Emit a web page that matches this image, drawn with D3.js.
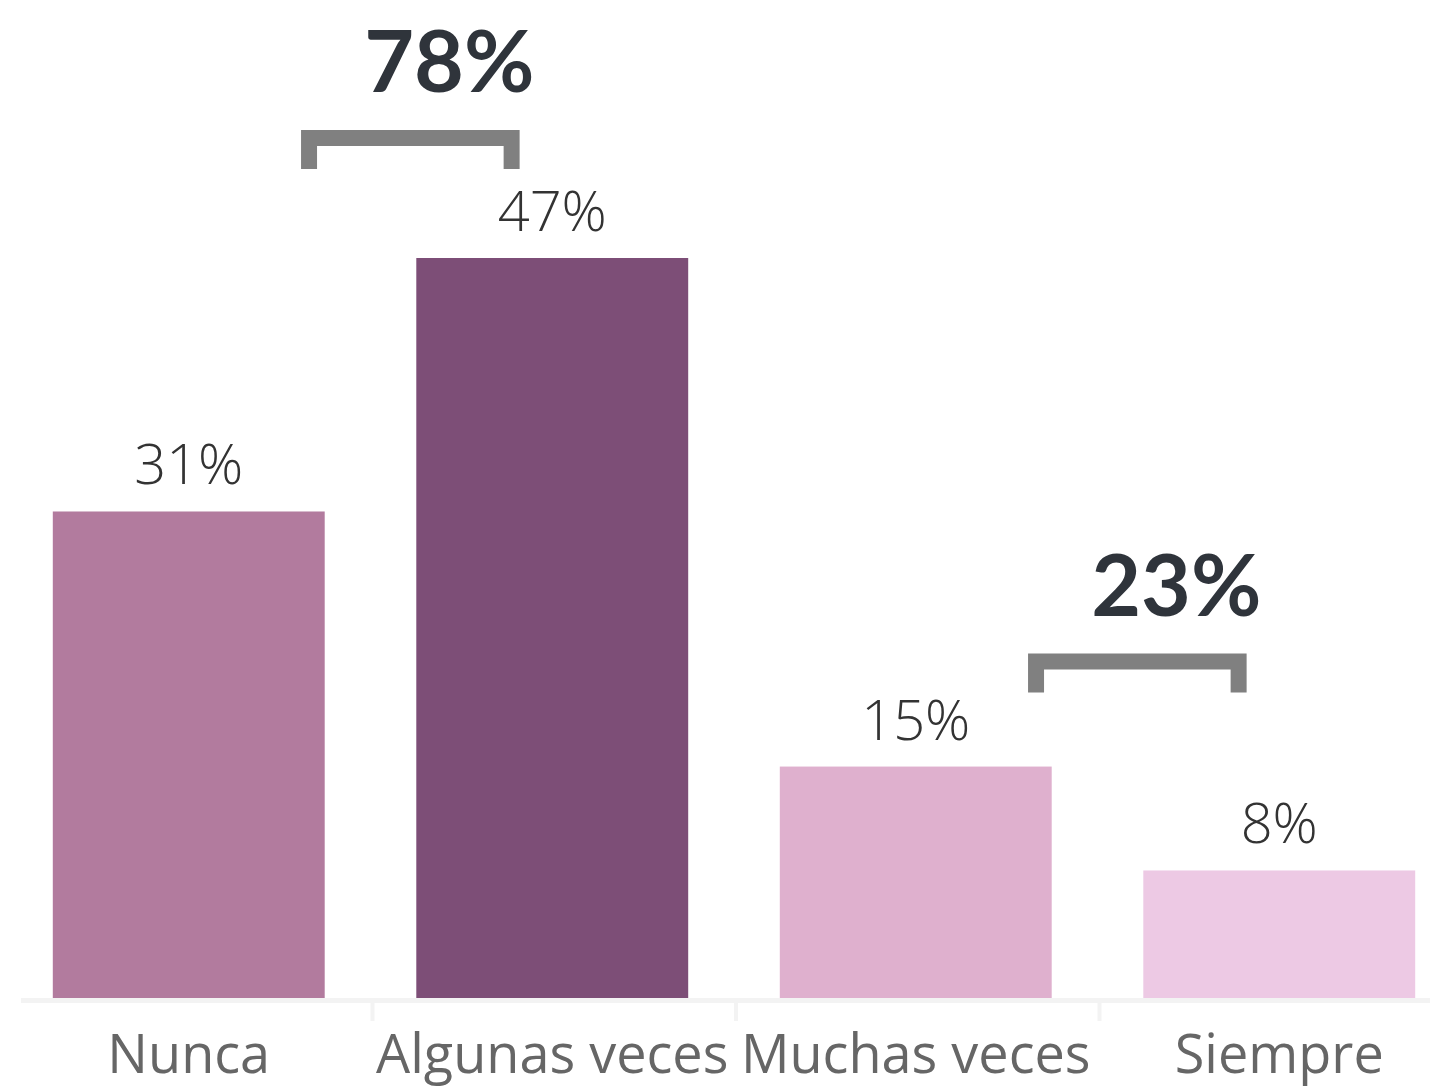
<!DOCTYPE html>
<html>
<head>
<meta charset="utf-8">
<script src="https://cdn.jsdelivr.net/npm/d3@7"></script>
<style>
  html, body { margin: 0; padding: 0; background: #ffffff; }
  svg { display: block; }
</style>
</head>
<body>
<svg id="chart" width="1430" height="1086"></svg>
<script>
// ---- data ----
const categories = ["Nunca", "Algunas veces", "Muchas veces", "Siempre"];
const values = [30.9, 47.0, 14.7, 8.1];
const barColors = ["#b27b9e", "#7d4e77", "#dfb0ce", "#edc9e4"];
const groups = [[0, 1], [2, 3]];   // bracketed category pairs

// ---- layout ----
const W = 1430, H = 1086;
const baseY = 998;
const svg = d3.select("#chart");

const x = d3.scaleBand()
  .domain(categories)
  .range([7, 1461])
  .paddingInner(0.252)
  .paddingOuter(0.126);

const y = d3.scaleLinear()
  .domain([0, 47])
  .range([baseY, 258]);

const fmt = v => d3.format(".0f")(v) + "%";

// axis line
svg.append("rect")
  .attr("x", 21).attr("y", baseY)
  .attr("width", W - 21).attr("height", 5)
  .attr("fill", "#f3f3f3");

// dividers between categories
const step = x.step();
categories.slice(1).forEach(c => {
  const xd = x(c) - (step - x.bandwidth()) / 2;
  svg.append("rect")
    .attr("x", xd).attr("y", baseY + 5)
    .attr("width", 4).attr("height", 18)
    .attr("fill", "#f3f3f3");
});

// bars
svg.selectAll("rect.bar")
  .data(categories)
  .join("rect")
  .attr("class", "bar")
  .attr("x", d => x(d))
  .attr("y", (d, i) => y(values[i]))
  .attr("width", x.bandwidth())
  .attr("height", (d, i) => baseY - y(values[i]))
  .attr("fill", (d, i) => barColors[i]);

// value labels
svg.selectAll("text.val")
  .data(categories)
  .join("text")
  .attr("class", "val")
  .attr("x", d => x(d) + x.bandwidth() / 2)
  .attr("y", (d, i) => y(values[i]) - 27)
  .attr("text-anchor", "middle")
  .attr("font-family", "'Open Sans', sans-serif")
  .attr("font-weight", 300)
  .attr("font-size", 56)
  .attr("fill", "#333")
  .text((d, i) => fmt(values[i]));

// category labels
svg.selectAll("text.cat")
  .data(categories)
  .join("text")
  .attr("class", "cat")
  .attr("x", d => x(d) + x.bandwidth() / 2)
  .attr("y", 1073)
  .attr("text-anchor", "middle")
  .attr("font-family", "'Open Sans', sans-serif")
  .attr("font-size", 54)
  .attr("fill", "#666")
  .text(d => d);

// brackets and totals
const lift = [89, 74];
groups.forEach((g, gi) => {
  const c0 = categories[g[0]], c1 = categories[g[1]];
  const x0 = x(c0) + x.bandwidth() * 0.913;
  const x1 = x(c1) + x.bandwidth() * 0.38;
  const gmax = d3.max(g, i => values[i]);
  const bottom = y(gmax) - lift[gi];
  const top = bottom - 39;
  const t = 16;
  svg.append("path")
    .attr("d", `M${x0},${bottom} V${top} H${x1} V${bottom} H${x1 - t} V${top + t} H${x0 + t} V${bottom} Z`)
    .attr("fill", "#808080");
  const total = d3.sum(g, i => values[i]);
  svg.append("text")
    .attr("x", (x0 + x1) / 2 + 39)
    .attr("y", top - 38)
    .attr("text-anchor", "middle")
    .attr("font-family", "Lato, sans-serif")
    .attr("font-weight", 700)
    .attr("font-size", 86)
    .attr("fill", "#2f343b")
    .text(fmt(total));
});
</script>
</body>
</html>
